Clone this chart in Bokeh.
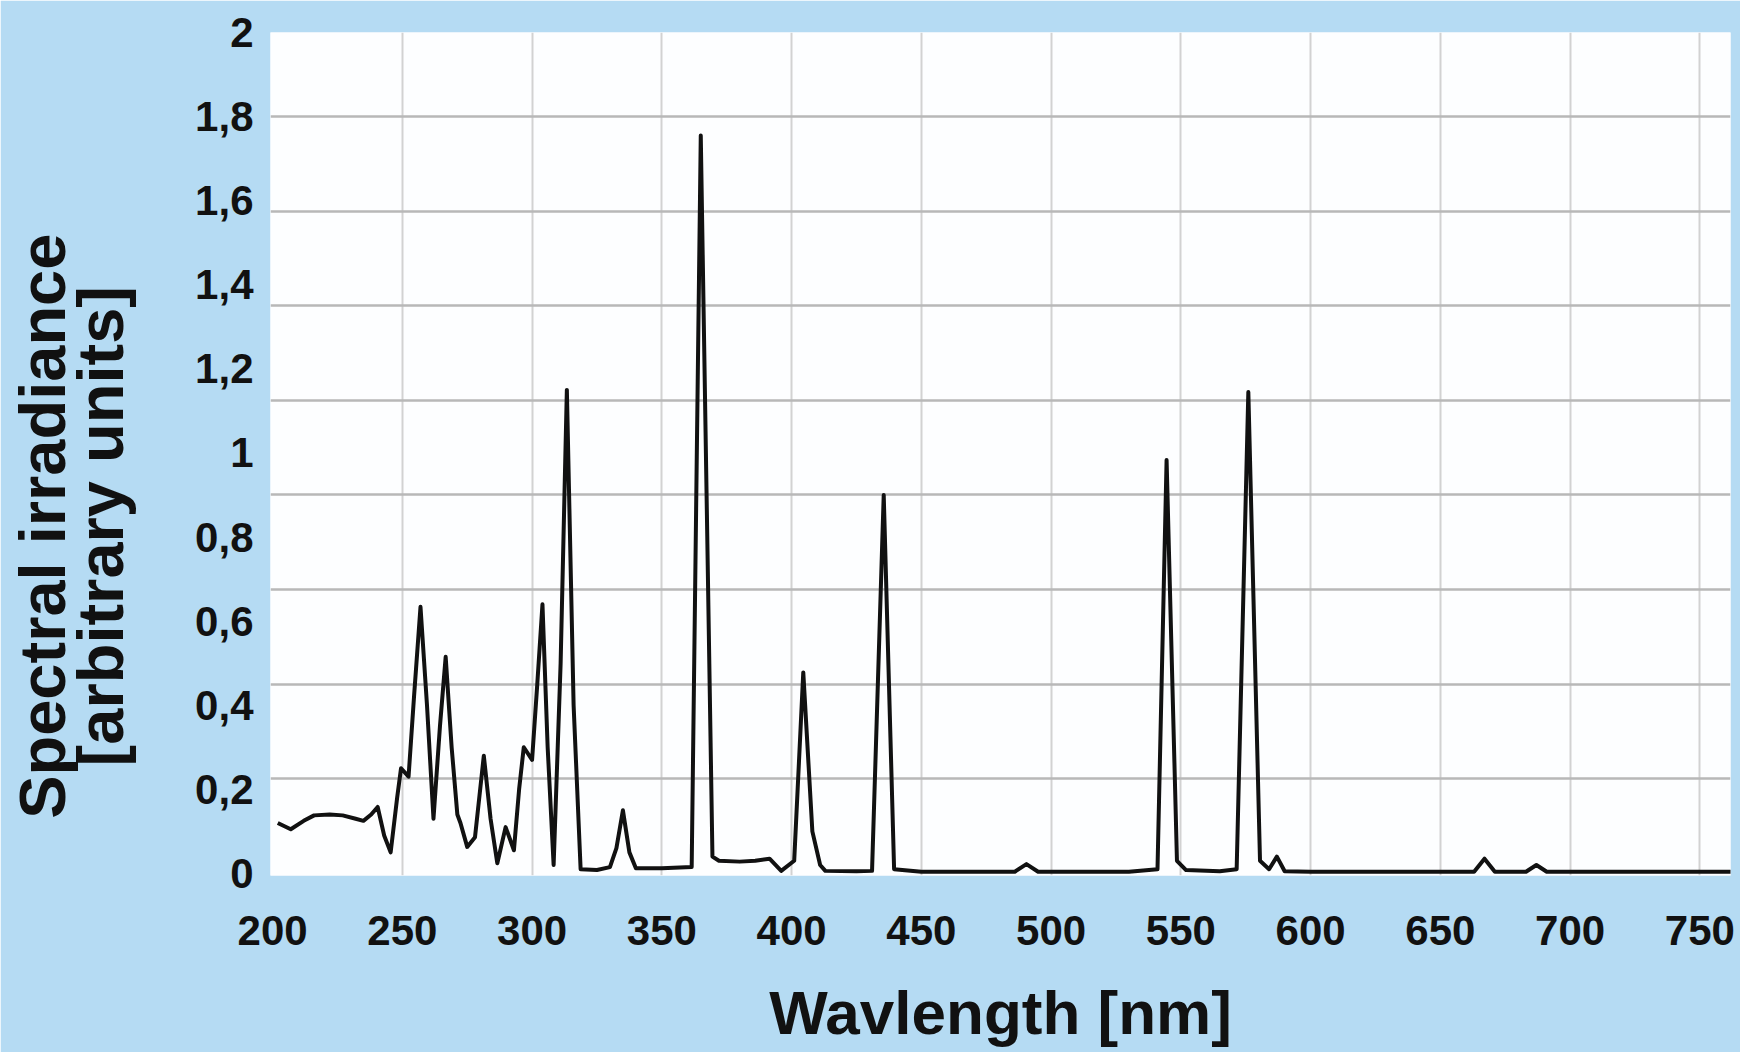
from bokeh.plotting import figure
from bokeh.models import Range1d, FixedTicker
from bokeh.embed import file_html
from bokeh.resources import INLINE

# ---- data ----
wavelength = [202, 207, 212, 216, 222, 227, 232, 235, 238, 240.5, 243, 245.5, 248, 249.5,
              252.4, 254.5, 257, 259.5, 262, 264.5, 266.7, 269, 271.2, 272.4, 275, 278,
              281.4, 284, 286.6, 289.8, 293, 295, 296.8, 300, 302, 304, 306, 308.3, 311,
              313.4, 316, 318.7, 325, 330, 332.5, 335, 337.5, 340, 350, 361.5, 365, 369.5,
              372, 380, 386, 391.5, 396, 401, 404.5, 408, 411, 413, 425, 431, 435.5, 439.5,
              450, 486, 490.5, 495, 530, 541, 544.5, 548.5, 552, 565, 571.5, 576, 580.5,
              584, 587, 590, 600, 650, 663, 667, 671, 683, 687, 691, 720, 762]
irradiance = [0.12, 0.105, 0.125, 0.138, 0.14, 0.138, 0.13, 0.125, 0.14, 0.158, 0.09, 0.05,
              0.18, 0.25, 0.23, 0.42, 0.634, 0.4, 0.13, 0.35, 0.515, 0.3, 0.14, 0.12, 0.063,
              0.086, 0.28, 0.13, 0.024, 0.11, 0.055, 0.2, 0.30, 0.27, 0.45, 0.64, 0.3, 0.02,
              0.5, 1.15, 0.4, 0.01, 0.008, 0.015, 0.06, 0.15, 0.05, 0.012, 0.012, 0.015,
              1.755, 0.04, 0.03, 0.028, 0.03, 0.035, 0.006, 0.03, 0.478, 0.10, 0.02, 0.006,
              0.005, 0.006, 0.90, 0.01, 0.004, 0.004, 0.022, 0.004, 0.004, 0.01, 0.983, 0.03,
              0.008, 0.005, 0.01, 1.145, 0.03, 0.01, 0.04, 0.005, 0.004, 0.004, 0.004, 0.035,
              0.004, 0.004, 0.02, 0.004, 0.004, 0.004]

x_ticks = [200, 250, 300, 350, 400, 450, 500, 550, 600, 650, 700, 750]
y_ticks = [0, 0.2, 0.4, 0.6, 0.8, 1.0, 1.2, 1.4, 1.6, 1.8, 2.0]
y_tick_labels = ["0", "0,2", "0,4", "0,6", "0,8", "1", "1,2", "1,4", "1,6", "1,8", "2"]
y_grid_values = [0.225, 0.45, 0.675, 0.9, 1.125, 1.35, 1.575, 1.8]
x_grid_values = [250, 300, 350, 400, 450, 500, 550, 600, 650, 700, 750]

x_title = "Wavlength [nm]"
y_title_lines = ["Spectral irradiance", "[arbitrary units]"]

BG = "#b5dbf3"
FONT = "Liberation Sans"
INK = "#111111"

X0, X1 = 199.2, 761.8
Y0, Y1 = -0.005, 2.0
FRAME_L, FRAME_R, FRAME_T, FRAME_B = 270, 1730, 32, 875
W, H = 1740, 1052

p = figure(width=W, height=H,
           x_range=Range1d(X0, X1), y_range=Range1d(Y0, Y1),
           output_backend="svg", toolbar_location=None,
           min_border_left=FRAME_L, min_border_right=W - FRAME_R,
           min_border_top=FRAME_T, min_border_bottom=H - FRAME_B)

p.background_fill_color = "#fdfeff"
p.border_fill_color = BG
p.outline_line_color = None

p.line(wavelength, irradiance, line_color=INK, line_width=4, line_join="round")

# grids
p.xgrid.ticker = FixedTicker(ticks=x_grid_values)
p.ygrid.ticker = FixedTicker(ticks=y_grid_values)
p.xgrid.grid_line_color = "#d2d2d2"
p.xgrid.grid_line_width = 2
p.ygrid.grid_line_color = "#b8b8b8"
p.ygrid.grid_line_width = 2.5


def plain(axis):
    axis.axis_line_color = None
    axis.major_tick_line_color = None
    axis.minor_tick_line_color = None
    axis.major_tick_out = 0
    axis.minor_tick_out = 0
    axis.major_tick_in = 0
    axis.minor_tick_in = 0


# x axis
xa = p.xaxis[0]
xa.ticker = FixedTicker(ticks=x_ticks)
plain(xa)
xa.major_label_standoff = 40
xa.major_label_text_font = FONT
xa.major_label_text_font_style = "bold"
xa.major_label_text_font_size = "42px"
xa.major_label_text_color = INK
xa.axis_label = x_title
xa.axis_label_standoff = 30
xa.axis_label_text_font = FONT
xa.axis_label_text_font_style = "bold"
xa.axis_label_text_font_size = "62px"
xa.axis_label_text_color = INK

# y axis
ya = p.yaxis[0]
ya.ticker = FixedTicker(ticks=y_ticks)
ya.major_label_overrides = {t: l for t, l in zip(y_ticks, y_tick_labels)}
plain(ya)
ya.major_label_standoff = 17
ya.major_label_text_font = FONT
ya.major_label_text_font_style = "bold"
ya.major_label_text_font_size = "42px"
ya.major_label_text_color = INK

# the reference's y title sits lower than the frame centre: trailing no-break
# spaces push the visible, centred text down
PAD = "\u00a0" * 8
ya.axis_label = "\n".join(line + PAD for line in y_title_lines)
ya.axis_label_standoff = 55
ya.axis_label_text_font = FONT
ya.axis_label_text_font_style = "bold"
ya.axis_label_text_font_size = "65px"
ya.axis_label_text_line_height = 0.8
ya.axis_label_text_color = INK
ya.axis_label_text_align = "center"

open("out.html", "w").write(file_html(p, INLINE))
